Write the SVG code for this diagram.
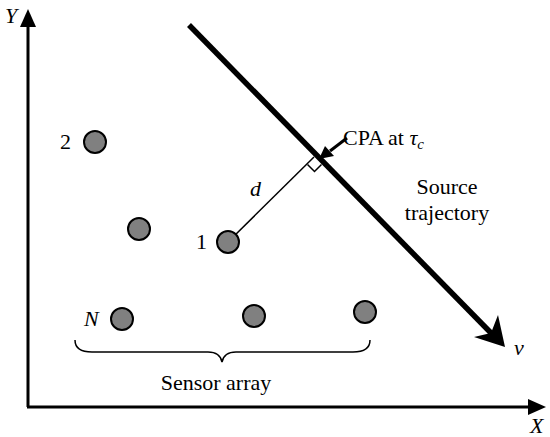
<svg xmlns="http://www.w3.org/2000/svg" width="550" height="437" viewBox="0 0 550 437">
<style>
text{font-family:"Liberation Serif","DejaVu Serif","Times New Roman",serif;font-size:22px;fill:#000}
.it{font-style:italic}
.sensor{fill:#808080;stroke:#000;stroke-width:2}
.ax{stroke:#000;stroke-width:3;fill:none}
</style>
<rect width="550" height="437" fill="#fff"/>
<g id="axes">
<line class="ax" x1="28" y1="407" x2="28" y2="24"/>
<polygon points="28,9 20,27 36,27" fill="#000"/>
<line class="ax" x1="27" y1="407" x2="531" y2="407"/>
<polygon points="546,407 528,399 528,415" fill="#000"/>
<text class="it" x="5" y="23">Y</text>
<text class="it" x="530" y="433">X</text>
</g>
<g id="trajectory">
<line x1="189" y1="25" x2="492" y2="334" stroke="#000" stroke-width="5.5"/>
<polygon points="505,347 474,337 491,333 498,315" fill="#000"/>
<text class="it" x="514" y="355">v</text>
<text x="447" y="194" text-anchor="middle">Source</text>
<text x="447" y="220" text-anchor="middle">trajectory</text>
</g>
<g id="connectors">
<line x1="228" y1="242" x2="314" y2="157" stroke="#000" stroke-width="1.5"/>
<polyline points="307.5,164.5 314.5,171.5 321.5,164.5" fill="none" stroke="#000" stroke-width="1.5"/>
<text class="it" x="250" y="196">d</text>
</g>
<g id="cpa">
<line x1="347" y1="138" x2="330" y2="151" stroke="#000" stroke-width="3"/>
<polygon points="319,159 325,146 334,156" fill="#000"/>
<text x="343" y="145">CPA at <tspan class="it">τ</tspan><tspan class="it" font-size="15" dy="4">c</tspan></text>
</g>
<g id="sensor-2"><circle class="sensor" cx="95" cy="142" r="11"/><text x="60" y="149">2</text></g>
<g id="sensor-3"><circle class="sensor" cx="139" cy="229" r="11"/></g>
<g id="sensor-1"><circle class="sensor" cx="228" cy="242" r="11"/><text x="196" y="249">1</text></g>
<g id="sensor-N"><circle class="sensor" cx="122" cy="319" r="11"/><text class="it" x="84" y="326">N</text></g>
<g id="sensor-5"><circle class="sensor" cx="254" cy="316" r="11"/></g>
<g id="sensor-6"><circle class="sensor" cx="365" cy="312" r="11"/></g>
<g id="array">
<path d="M75,340 Q75,352 92,352 L208,352 Q220,352 222,362 Q224,352 236,352 L353,352 Q370,352 370,340" fill="none" stroke="#000" stroke-width="1.5"/>
<text x="216" y="390" text-anchor="middle">Sensor array</text>
</g>
</svg>
